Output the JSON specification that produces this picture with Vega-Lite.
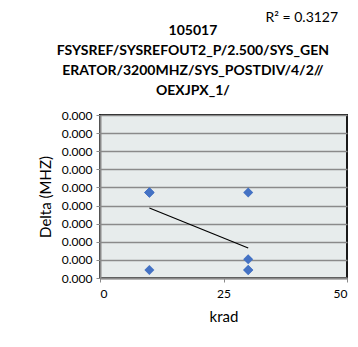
{
  "$schema": "https://vega.github.io/schema/vega-lite/v6.json",
  "autosize": {"type": "none"},
  "width": 247,
  "height": 163,
  "padding": {"left": 100, "top": 115, "right": 11, "bottom": 69},
  "background": "white",
  "title": {
    "text": ["105017", "FSYSREF/SYSREFOUT2_P/2.500/SYS_GEN", "ERATOR/3200MHZ/SYS_POSTDIV/4/2//", "OEXJPX_1/"],
    "font": "Lato",
    "fontSize": 14,
    "fontWeight": "bold",
    "lineHeight": 20,
    "color": "#000000",
    "anchor": "middle",
    "frame": "bounds",
    "offset": -87,
    "dx": 0
  },
  "config": {
    "view": {"fill": "#e7ecec", "stroke": "#1a1a1a", "strokeWidth": 2},
    "axis": {
      "labelFont": "Lato",
      "titleFont": "Lato",
      "labelFontSize": 12,
      "titleFontSize": 15,
      "titleFontWeight": "normal",
      "labelColor": "#000000",
      "titleColor": "#000000",
      "domainColor": "#8a8a8a",
      "domainWidth": 2,
      "tickColor": "#8a8a8a",
      "tickSize": 4,
      "labelOverlap": false
    }
  },
  "data": {
    "values": [
      {"krad": 10, "delta": 0.000236},
      {"krad": 10, "delta": 0.000236},
      {"krad": 10, "delta": 0.000236},
      {"krad": 10, "delta": 0.000236},
      {"krad": 10, "delta": 0.000022},
      {"krad": 30, "delta": 0.000236},
      {"krad": 30, "delta": 0.000052},
      {"krad": 30, "delta": 0.000022},
      {"krad": 30, "delta": 0.000022}
    ]
  },
  "layer": [
    {
      "mark": {"type": "point", "shape": "diamond", "filled": true, "size": 100, "color": "#4472c4", "opacity": 1},
      "encoding": {
        "x": {
          "field": "krad", "type": "quantitative",
          "scale": {"domain": [0, 50], "nice": false},
          "axis": {"values": [0, 25, 50], "tickCount": 3, "grid": false, "title": "krad", "titlePadding": 10, "labelPadding": 6}
        },
        "y": {
          "field": "delta", "type": "quantitative",
          "scale": {"domain": [0, 0.00045], "nice": false, "zero": true},
          "axis": {
            "values": [0, 0.00005, 0.0001, 0.00015, 0.0002, 0.00025, 0.0003, 0.00035, 0.0004, 0.00045],
            "tickCount": 12,
            "format": ".3f",
            "grid": true, "gridColor": "#8a8a8a", "gridWidth": 1.5,
            "title": "Delta (MHZ)", "titlePadding": 8, "labelPadding": 4
          }
        }
      }
    },
    {
      "transform": [{"regression": "delta", "on": "krad", "extent": [10, 30]}],
      "mark": {"type": "line", "color": "#000000", "strokeWidth": 1.2},
      "encoding": {
        "x": {"field": "krad", "type": "quantitative"},
        "y": {"field": "delta", "type": "quantitative"}
      }
    },
    {
      "data": {"values": [{"krad": 48.2, "delta": 0.000718, "label": "R² = 0.3127"}]},
      "mark": {"type": "text", "align": "right", "baseline": "middle", "font": "Lato", "fontSize": 14, "color": "#000000", "clip": false},
      "encoding": {
        "x": {"field": "krad", "type": "quantitative"},
        "y": {"field": "delta", "type": "quantitative"},
        "text": {"field": "label"}
      }
    }
  ]
}
